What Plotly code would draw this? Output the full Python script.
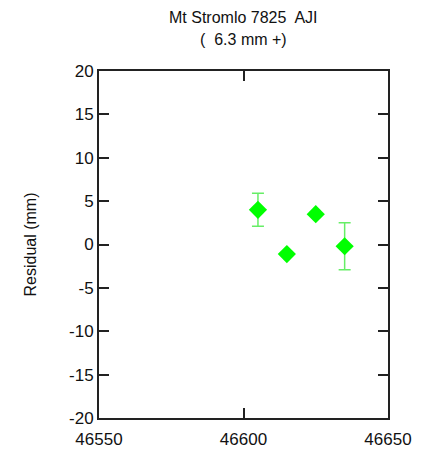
import plotly.graph_objects as go

x_mjd = [46605, 46615, 46625, 46635]
residual = [4.0, -1.1, 3.5, -0.2]
err = [1.9, 0.0, 0.0, 2.7]

x_ticks = [46550, 46600, 46650]
x_ticktext = ["46550", "46600", "46650"]
y_ticks = [-20, -15, -10, -5, 0, 5, 10, 15, 20]
y_ticktext = ["-20", "-15", "-10", "-5", "0", "5", "10", "15", "20"]

title_line1 = "Mt Stromlo 7825  AJI"
title_line2 = "(  6.3 mm +)"

FONT = "Liberation Sans, Arial, sans-serif"

fig = go.Figure()
fig.add_trace(go.Scatter(
    x=x_mjd, y=residual, mode="markers",
    marker=dict(symbol="diamond", size=14, color="#00ff00", line=dict(width=0)),
    error_y=dict(type="data", array=err, visible=True, color="#66ee66", thickness=1.5, width=6),
    showlegend=False,
))

axis_common = dict(
    showgrid=False, zeroline=False, showline=True, linecolor="#222222", linewidth=2,
    mirror="ticks", ticks="inside", ticklen=10, tickwidth=2, tickcolor="#222222",
    tickfont=dict(family=FONT, size=17, color="#111111"), automargin=False,
)

fig.update_layout(
    width=423, height=452,
    margin=dict(l=99, r=35, t=71, b=34),
    paper_bgcolor="white", plot_bgcolor="white",
    xaxis=dict(range=[46550, 46650], tickvals=x_ticks, ticktext=x_ticktext,
               ticklabelstandoff=5, **axis_common),
    yaxis=dict(range=[-20, 20], tickvals=y_ticks, ticktext=y_ticktext,
               title=dict(text="Residual (mm)", standoff=28,
                          font=dict(family=FONT, size=16, color="#111111")),
               **axis_common),
    annotations=[
        dict(text=title_line1, xref="paper", yref="paper", x=0.5, y=1, yshift=54,
             showarrow=False, font=dict(family=FONT, size=16, color="#111111"), yanchor="middle"),
        dict(text=title_line2, xref="paper", yref="paper", x=0.5, y=1, yshift=32,
             showarrow=False, font=dict(family=FONT, size=16, color="#111111"), yanchor="middle"),
    ],
)

fig.write_html("out.html")
